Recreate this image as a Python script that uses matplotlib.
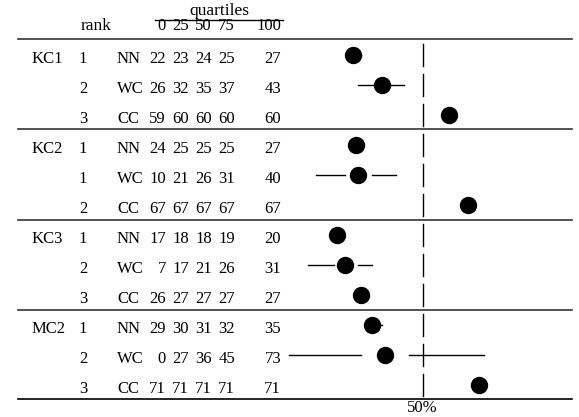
import matplotlib
matplotlib.use("Agg")
import matplotlib.pyplot as plt
import matplotlib.transforms as mtransforms

plt.rcParams['font.family'] = ['Liberation Serif', 'DejaVu Serif']

datasets = ["KC1", "KC2", "KC3", "MC2"]
ranks = [[1, 2, 3], [1, 1, 2], [1, 2, 3], [1, 2, 3]]
learners = ["NN", "WC", "CC"]
kc1 = [[22, 23, 24, 25, 27], [26, 32, 35, 37, 43], [59, 60, 60, 60, 60]]
kc2 = [[24, 25, 25, 25, 27], [10, 21, 26, 31, 40], [67, 67, 67, 67, 67]]
kc3 = [[17, 18, 18, 19, 20], [7, 17, 21, 26, 31], [26, 27, 27, 27, 27]]
mc2 = [[29, 30, 31, 32, 35], [0, 27, 36, 45, 73], [71, 71, 71, 71, 71]]
quarts = [kc1, kc2, kc3, mc2]
header = ["0", "25", "50", "75", "100"]

W, H = 579, 417
fig = plt.figure(figsize=(W / 100, H / 100), dpi=100)
ax = fig.add_axes([0, 0, 1, 1])
ax.axis("off")
# value axis: 0 -> px 289, 100 -> px 556
ax.set_xlim(-289 / 2.67, (W - 289) / 2.67)
# rows: row 0 -> px 55, 30 px per row
ax.set_ylim(11 + (H - 385) / 30, -55 / 30)

tr = mtransforms.blended_transform_factory(fig.transFigure, ax.transData)
fx = lambda px: px / W
fs = 12
dy = 0.13  # text sits a little below the dots

num_right = [166, 189, 212, 235, 281]

row = 0
for g, name in enumerate(datasets):
    for j, lrn in enumerate(learners):
        q = quarts[g][j]
        ty = row + dy
        if j == 0:
            ax.text(fx(32), ty, name, transform=tr, ha="left", va="center", fontsize=fs)
        ax.text(fx(83), ty, str(ranks[g][j]), transform=tr, ha="center", va="center", fontsize=fs)
        ax.text(fx(117), ty, lrn, transform=tr, ha="left", va="center", fontsize=fs)
        for k, v in enumerate(q):
            ax.text(fx(num_right[k]), ty, str(v), transform=tr, ha="right", va="center", fontsize=fs)
        # whiskers and median
        if q[1] > q[0]:
            ax.plot([q[0], q[1]], [row, row], color="black", lw=1)
        if q[4] > q[3]:
            ax.plot([q[3], q[4]], [row, row], color="black", lw=1)
        ax.plot(q[2], row, "o", color="black", markersize=11.5)
        # 50% marker segment
        ax.plot([50, 50], [row - 0.36, row + 0.36], color="black", lw=1)
        row += 1

# rules
ax.plot([fx(18), fx(572)], [-0.55, -0.55], transform=tr, color="#333333", lw=1.2)
for s in [2.47, 5.5, 8.5]:
    ax.plot([fx(18), fx(572)], [s, s], transform=tr, color="#333333", lw=1.2)
ax.plot([fx(18), fx(572)], [11.48, 11.48], transform=tr, color="black", lw=1.2)

# header
ax.text(fx(219), -1.47, "quartiles", transform=tr, ha="center", va="center", fontsize=12.5)
ax.plot([fx(155), fx(283)], [-1.18, -1.18], transform=tr, color="black", lw=1)
ax.text(fx(96), -0.95, "rank", transform=tr, ha="center", va="center", fontsize=12.5)
for k, h in enumerate(header):
    ax.text(fx(num_right[k]), -0.95, h, transform=tr, ha="right", va="center", fontsize=fs)

ax.text(50, 11.75, "50%", ha="center", va="center", fontsize=12)

fig.savefig("out.png", dpi=100)
